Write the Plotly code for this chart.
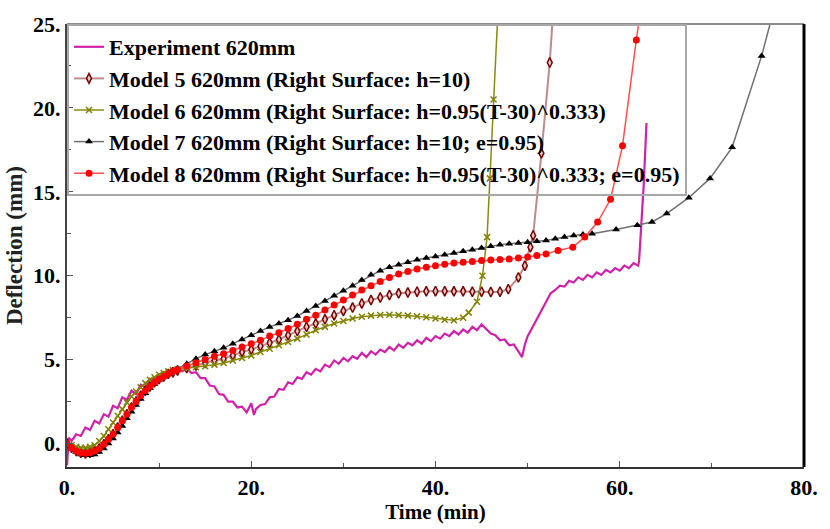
import plotly.graph_objects as go

# ---------------- data ----------------
exp_t = [0.0, 0.2, 0.5, 1.0, 1.5, 2.0, 2.5, 3.0, 3.5, 4.0, 4.5, 5.0, 5.5, 6.0, 6.5, 7.0, 7.5, 8.0, 8.5, 9.0,
         9.5, 10.0, 10.5, 11.0, 11.5, 12.0, 12.5, 13.0, 13.5, 14.0, 14.5, 15.0, 15.5, 16.0, 16.5, 17.0, 17.5,
         18.0, 18.5, 19.0, 19.5, 20.0, 20.3, 20.5, 21.0, 21.5, 22.0, 22.5, 23.0, 23.5, 24.0, 24.5, 25.0, 25.5,
         26.0, 26.5, 27.0, 27.5, 28.0, 28.5, 29.0, 29.5, 30.0, 30.5, 31.0, 31.5, 32.0, 32.5, 33.0, 33.5, 34.0,
         34.5, 35.0, 35.5, 36.0, 36.5, 37.0, 37.5, 38.0, 38.5, 39.0, 39.5, 40.0, 40.5, 41.0, 41.5, 42.0, 42.5,
         43.0, 43.5, 44.0, 44.5, 45.0, 45.5, 46.0, 46.5, 47.0, 47.5, 48.0, 48.5, 49.0, 49.4, 49.7, 50.0, 50.5,
         51.0, 51.5, 52.0, 52.5, 53.0, 53.5, 54.0, 54.5, 55.0, 55.5, 56.0, 56.5, 57.0, 57.5, 58.0, 58.5, 59.0,
         59.5, 60.0, 60.5, 61.0, 61.5, 62.0, 62.1, 62.3, 62.6, 62.9]
exp_y = [-1.3, 0.35, 0.15, 0.55, 0.45, 0.95, 0.8, 1.35, 1.2, 1.75, 1.6, 2.25, 2.1, 2.75, 2.6, 3.15, 2.95, 3.5, 3.35,
         3.85, 3.65, 4.1, 3.95, 4.35, 4.15, 4.55, 4.3, 4.5, 4.2, 4.25, 3.9, 3.9, 3.45, 3.4, 2.95, 2.9, 2.5, 2.5,
         2.15, 2.2, 1.85, 2.4, 1.7, 2.05, 2.3, 2.35, 2.75, 2.8, 3.25, 3.2, 3.65, 3.55, 3.95, 3.85, 4.25, 4.1, 4.45,
         4.3, 4.7, 4.55, 4.95, 4.75, 5.1, 4.9, 5.2, 5.05, 5.4, 5.15, 5.5, 5.3, 5.6, 5.45, 5.75, 5.55, 5.9, 5.7,
         6.0, 5.85, 6.15, 5.95, 6.3, 6.1, 6.4, 6.25, 6.55, 6.4, 6.7, 6.5, 6.8, 6.6, 6.95, 6.75, 7.1, 6.85, 6.55,
         6.45, 6.15, 6.2, 5.85, 5.9, 5.45, 5.15, 5.9, 6.4, 6.9, 7.4, 7.95, 8.4, 8.95, 9.15, 9.4, 9.35, 9.7, 9.6,
         9.9, 9.75, 10.05, 9.9, 10.2, 10.05, 10.35, 10.2, 10.45, 10.3, 10.6, 10.45, 10.75, 10.6, 10.9, 12.7,
         15.4, 19.1]

early_t = [0.0, 0.5, 1.0, 1.5, 2.0, 2.5, 3.0, 3.5, 4.0, 4.5, 5.0, 5.5, 6.0, 6.5, 7.0, 7.5, 8.0, 8.5, 9.0,
           9.5, 10.0, 10.5, 11.0, 11.5, 12.0]

m5_t = early_t + [13, 14, 15, 16, 17, 18, 19, 20, 21, 22, 23, 24, 25, 26, 27, 28, 29, 30, 31, 32, 33, 34, 35,
                  36, 37, 38, 39, 40, 41, 42, 43, 44, 45, 46, 47, 47.9, 49.0, 49.7, 50.3, 50.6, 51.5, 52.4, 52.8]
m5_y = [0.0, -0.25, -0.45, -0.55, -0.6, -0.55, -0.45, -0.3, -0.05, 0.25, 0.55, 0.95, 1.35, 1.75, 2.15, 2.5,
        2.85, 3.15, 3.4, 3.65, 3.85, 4.0, 4.15, 4.25, 4.35,
        4.5, 4.65, 4.8, 4.95, 5.05, 5.25, 5.45, 5.6, 5.8, 6.0, 6.2, 6.45, 6.7, 6.95, 7.15, 7.4, 7.65, 7.9, 8.1,
        8.35, 8.55, 8.7, 8.85, 8.95, 9.0, 9.05, 9.07, 9.08, 9.08, 9.07, 9.07, 9.05, 9.05, 9.03, 9.05, 9.2, 9.9,
        10.6, 11.7, 12.4, 17.3, 22.7, 26.0]

m6_t = early_t + [13, 14, 15, 16, 17, 18, 19, 20, 21, 22, 23, 24, 25, 26, 27, 28, 29, 30, 31, 32, 33, 34, 35,
                  36, 37, 38, 39, 40, 41, 42, 43, 43.6, 44.5, 45.1, 45.6, 45.9, 46.3, 46.8]
m6_y = [0.0, -0.1, -0.2, -0.25, -0.25, -0.2, -0.1, 0.15, 0.45, 0.85, 1.25, 1.65, 2.05, 2.45, 2.8, 3.1, 3.35,
        3.6, 3.8, 3.95, 4.1, 4.2, 4.3, 4.38, 4.42,
        4.48, 4.55, 4.6, 4.7, 4.8, 4.95, 5.1, 5.25, 5.45, 5.65, 5.85, 6.05, 6.25, 6.5, 6.75, 6.95, 7.15, 7.3,
        7.45, 7.55, 7.62, 7.66, 7.67, 7.65, 7.62, 7.58, 7.52, 7.45, 7.38, 7.35, 7.5, 7.8, 8.45, 10.0, 12.3,
        15.8, 20.5, 26.0]

m7_t = early_t + [13, 14, 15, 16, 17, 18, 19, 20, 21, 22, 23, 24, 25, 26, 27, 28, 29, 30, 31, 32, 33, 34, 35,
                  36, 37, 38, 39, 40, 41, 42, 43, 44, 45, 46, 47, 48, 49, 50, 51, 52, 53, 54, 55, 56, 57,
                  59.6, 61.9, 63.5, 65.1, 67.5, 69.8, 72.2, 75.4, 76.8]
m7_y = [0.0, -0.3, -0.5, -0.65, -0.7, -0.7, -0.65, -0.5, -0.3, 0.0, 0.3, 0.65, 1.05, 1.5, 1.9, 2.3, 2.65, 3.0,
        3.3, 3.55, 3.8, 4.0, 4.15, 4.3, 4.45,
        4.75, 5.05, 5.3, 5.5, 5.7, 5.95, 6.2, 6.45, 6.7, 6.95, 7.15, 7.35, 7.6, 7.9, 8.2, 8.5, 8.8, 9.1, 9.4,
        9.75, 10.05, 10.3, 10.5, 10.65, 10.8, 10.95, 11.05, 11.15, 11.25, 11.35, 11.45, 11.55, 11.65, 11.75,
        11.85, 11.9, 11.95, 12.0, 12.05, 12.1, 12.2, 12.3, 12.4, 12.45, 12.5,
        12.75, 13.0, 13.2, 13.7, 14.65, 15.8, 17.65, 23.1, 26.0]

m8_t = early_t + [13, 14, 15, 16, 17, 18, 19, 20, 21, 22, 23, 24, 25, 26, 27, 28, 29, 30, 31, 32, 33, 34, 35,
                  36, 37, 38, 39, 40, 41, 42, 43, 44, 45, 46, 47, 48, 49, 50, 51, 52, 53.3, 54.9, 56.2, 57.6,
                  59.0, 60.3, 61.8, 62.3]
m8_y = [0.0, -0.25, -0.45, -0.55, -0.58, -0.55, -0.45, -0.3, -0.05, 0.25, 0.55, 0.95, 1.35, 1.75, 2.15, 2.5,
        2.85, 3.15, 3.4, 3.65, 3.85, 4.0, 4.15, 4.3, 4.4,
        4.62, 4.82, 5.0, 5.2, 5.35, 5.55, 5.75, 5.95, 6.15, 6.4, 6.6, 6.85, 7.1, 7.4, 7.65, 7.95, 8.25, 8.55,
        8.85, 9.15, 9.4, 9.65, 9.9, 10.1, 10.25, 10.4, 10.5, 10.6, 10.68, 10.75, 10.8, 10.85, 10.9, 10.93,
        10.97, 11.0, 11.05, 11.12, 11.2, 11.3, 11.5, 11.7, 12.3, 13.2, 14.55, 17.75, 24.05, 26.0]

x_ticks = [0, 20, 40, 60, 80]
x_tick_text = ["0.", "20.", "40.", "60.", "80."]
y_ticks = [0, 5, 10, 15, 20, 25]
y_tick_text = ["0.", "5.", "10.", "15.", "20.", "25."]

names = ["Experiment 620mm",
         "Model 5 620mm (Right Surface: h=10)",
         "Model 6 620mm (Right Surface: h=0.95(T-30)^0.333)",
         "Model 7 620mm (Right Surface: h=10; e=0.95)",
         "Model 8 620mm (Right Surface: h=0.95(T-30)^0.333; e=0.95)"]

FONT = "Liberation Serif"

fig = go.Figure()
fig.add_trace(go.Scatter(x=exp_t, y=exp_y, mode="lines", name=names[0], legendgroup="a",
                         line=dict(color="#D021A8", width=2.2)))
fig.add_trace(go.Scatter(x=m5_t, y=m5_y, mode="lines+markers", name=names[1], legendgroup="b",
                         line=dict(color="#C08A8A", width=2),
                         marker=dict(symbol="diamond-tall", size=7, color="#E8C8C8",
                                     line=dict(color="#7A0000", width=1.5))))
fig.add_trace(go.Scatter(x=m6_t, y=m6_y, mode="lines+markers", name=names[2], legendgroup="c",
                         line=dict(color="#8A8A10", width=1.5),
                         marker=dict(symbol="x-thin", size=6, color="#808000",
                                     line=dict(color="#808000", width=1.5))))
fig.add_trace(go.Scatter(x=m7_t, y=m7_y, mode="lines+markers", name=names[3], legendgroup="d",
                         line=dict(color="#707070", width=1.5),
                         marker=dict(symbol="triangle-up", size=7, color="#000000")))
fig.add_trace(go.Scatter(x=m8_t, y=m8_y, mode="lines+markers", name=names[4], legendgroup="e",
                         line=dict(color="#FF5050", width=1.5),
                         marker=dict(symbol="circle", size=7, color="#FF0000")))

axis_font = dict(family=FONT, size=22, color="black", weight="bold")

fig.update_layout(
    width=830, height=529,
    margin=dict(l=67, r=18, t=22, b=53),
    paper_bgcolor="white", plot_bgcolor="white",
    showlegend=True,
    legend=dict(x=0, y=1, xanchor="left", yanchor="top", bgcolor="rgba(255,255,255,0)",
                bordercolor="#A8A8A8", borderwidth=2, tracegroupgap=0,
                font=dict(family=FONT, size=22, color="black", weight="bold")),
    xaxis=dict(range=[0, 80], tickvals=x_ticks, ticktext=x_tick_text, ticks="inside", ticklen=6,
               tickcolor="#555555", showgrid=False, zeroline=False, showline=True, linecolor="#333333",
               linewidth=2, tickfont=axis_font,
               minor=dict(tickvals=[10, 30, 50, 70], ticks="inside", ticklen=4, tickcolor="#555555"),
               title=dict(text="Time (min)", font=dict(family=FONT, size=21, color="black", weight="bold"),
                          standoff=2)),
    yaxis=dict(range=[-1.4, 25], tickvals=y_ticks, ticktext=y_tick_text, ticks="inside", ticklen=6,
               tickcolor="#555555", showgrid=False, zeroline=False, showline=True, linecolor="#444444",
               linewidth=2, tickfont=axis_font,
               minor=dict(tickvals=[2.5, 7.5, 12.5, 17.5, 22.5], ticks="inside", ticklen=4,
                          tickcolor="#555555"),
               title=dict(text="Deflection (mm)", font=dict(family=FONT, size=23, color="#222222", weight="bold"),
                          standoff=4)),
    shapes=[
        dict(type="line", xref="paper", yref="paper", x0=0, x1=1, y0=1, y1=1,
             line=dict(color="#8C8C8C", width=2)),
        dict(type="line", xref="paper", yref="paper", x0=1, x1=1, y0=0, y1=1,
             line=dict(color="#000000", width=3)),
    ],
)

fig.write_html("out.html")
